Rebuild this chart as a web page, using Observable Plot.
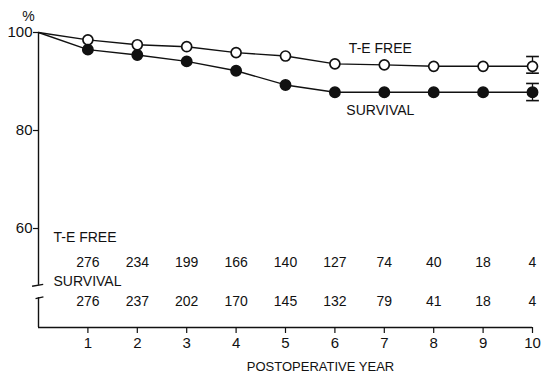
<!DOCTYPE html>
<html>
<head>
<meta charset="utf-8">
<script src="https://cdn.jsdelivr.net/npm/d3@7"></script>
<script src="https://cdn.jsdelivr.net/npm/@observablehq/plot@0.6"></script>
<style>
  html, body { margin: 0; padding: 0; background: #fff; }
</style>
</head>
<body>
<div id="chart"></div>
<script>
// ---- data ----
const years = [0, 1, 2, 3, 4, 5, 6, 7, 8, 9, 10];
const teFree = [100, 98.5, 97.5, 97.1, 95.9, 95.2, 93.6, 93.4, 93.1, 93.1, 93.1];
const survival = [100, 96.5, 95.4, 94.1, 92.2, 89.3, 87.8, 87.8, 87.8, 87.8, 87.8];
// error bars at year 10
const errYear = [10, 10];
const errLo = [91.7, 86.1];
const errHi = [95.1, 89.6];
// numbers at risk
const riskYears = [1, 2, 3, 4, 5, 6, 7, 8, 9, 10];
const teFreeN = [276, 234, 199, 166, 140, 127, 74, 40, 18, 4];
const survivalN = [276, 237, 202, 170, 145, 132, 79, 41, 18, 4];
// tick labels
const xTicks = [1, 2, 3, 4, 5, 6, 7, 8, 9, 10];
const yTicks = [60, 80, 100];
// series label anchors
const seriesNames = ["T-E FREE", "SURVIVAL"];
const seriesLabelX = [6.92, 6.92];
const seriesLabelY = [96.7, 84.1];
// axis break (values where the y axis line is interrupted)
const yMin = 39.8;
const breakTop = 48.4;
const breakBottom = 45.9;

const ink = "#111";
const pts = (ys) => years.map((x, i) => ({x, y: ys[i]}));
const tePts = pts(teFree);
const svPts = pts(survival);
const errs = errYear.map((x, i) => ({x, lo: errLo[i], hi: errHi[i]}));
const labels = seriesNames.map((t, i) => ({t, x: seriesLabelX[i], y: seriesLabelY[i]}));
const risk = riskYears.map((x, i) => ({x, a: teFreeN[i], b: survivalN[i]}));

const capSymbol = {
  draw(ctx, size) {
    const w = Math.sqrt(size) * 0.9;
    ctx.moveTo(-w, 0);
    ctx.lineTo(w, 0);
  }
};

const breaks = [
  {x1: -0.13, x2: 0.095, y1: breakTop - 0.17, y2: breakTop + 0.2},
  {x1: -0.06, x2: 0.1, y1: breakBottom - 0.2, y2: breakBottom + 0.15}
];

const chart = Plot.plot({
  width: 541,
  height: 381,
  marginTop: 32,
  marginBottom: 54,
  marginLeft: 38,
  marginRight: 9,
  style: {fontFamily: "'Liberation Sans', Arial, sans-serif", fontSize: "14px", background: "#fff", color: ink},
  x: {domain: [0, 10]},
  y: {domain: [yMin, 100]},
  marks: [
    // axes lines
    Plot.ruleX([0], {y1: breakTop, y2: 100, stroke: ink, strokeWidth: 1.4}),
    Plot.ruleX([0], {y1: yMin, y2: breakBottom, stroke: ink, strokeWidth: 1.4}),
    Plot.ruleY([yMin], {x1: 0, x2: 10, stroke: ink, strokeWidth: 1.4}),
    Plot.link(breaks, {x1: "x1", y1: "y1", x2: "x2", y2: "y2", stroke: ink, strokeWidth: 1.4}),
    Plot.axisY({ticks: yTicks, tickSize: 5, tickPadding: 1, label: null, fontSize: 15, stroke: ink, strokeWidth: 1.2}),
    Plot.axisX({ticks: xTicks, tickFormat: d3.format("d"), tickSize: 6, tickPadding: 4, label: null, fontSize: 15, stroke: ink, strokeWidth: 1.2}),
    Plot.text(["%"], {frameAnchor: "top-left", textAnchor: "middle", dx: -10, dy: -21, fontSize: 14}),
    Plot.text(["POSTOPERATIVE YEAR"], {frameAnchor: "bottom", dx: 35, dy: 43, fontSize: 13, letterSpacing: "0.5px"}),
    // error bars
    Plot.ruleX(errs, {x: "x", y1: "lo", y2: "hi", stroke: ink, strokeWidth: 1.3}),
    Plot.dot(errs, {x: "x", y: "lo", symbol: capSymbol, r: 4, stroke: ink, strokeWidth: 1.6}),
    Plot.dot(errs, {x: "x", y: "hi", symbol: capSymbol, r: 4, stroke: ink, strokeWidth: 1.6}),
    // curves
    Plot.line(tePts, {x: "x", y: "y", stroke: ink, strokeWidth: 1.4}),
    Plot.line(svPts, {x: "x", y: "y", stroke: ink, strokeWidth: 1.4}),
    Plot.dot(tePts.slice(1), {x: "x", y: "y", r: 5, fill: "#fff", stroke: ink, strokeWidth: 1.7}),
    Plot.dot(svPts.slice(1), {x: "x", y: "y", r: 5.2, fill: ink, stroke: ink}),
    Plot.text(labels, {x: "x", y: "y", text: "t", fontSize: 14, letterSpacing: "0.5px"}),
    // numbers at risk
    Plot.text(["T-E FREE"], {frameAnchor: "bottom-left", textAnchor: "start", dx: 15, dy: -86, fontSize: 14, letterSpacing: "0.5px"}),
    Plot.text(["SURVIVAL"], {frameAnchor: "bottom-left", textAnchor: "start", dx: 15, dy: -42, fontSize: 14, letterSpacing: "0.5px"}),
    Plot.text(risk, {x: "x", text: "a", frameAnchor: "bottom", dy: -61, fontSize: 14}),
    Plot.text(risk, {x: "x", text: "b", frameAnchor: "bottom", dy: -22, fontSize: 14})
  ]
});
document.getElementById("chart").appendChild(chart);
</script>
</body>
</html>
